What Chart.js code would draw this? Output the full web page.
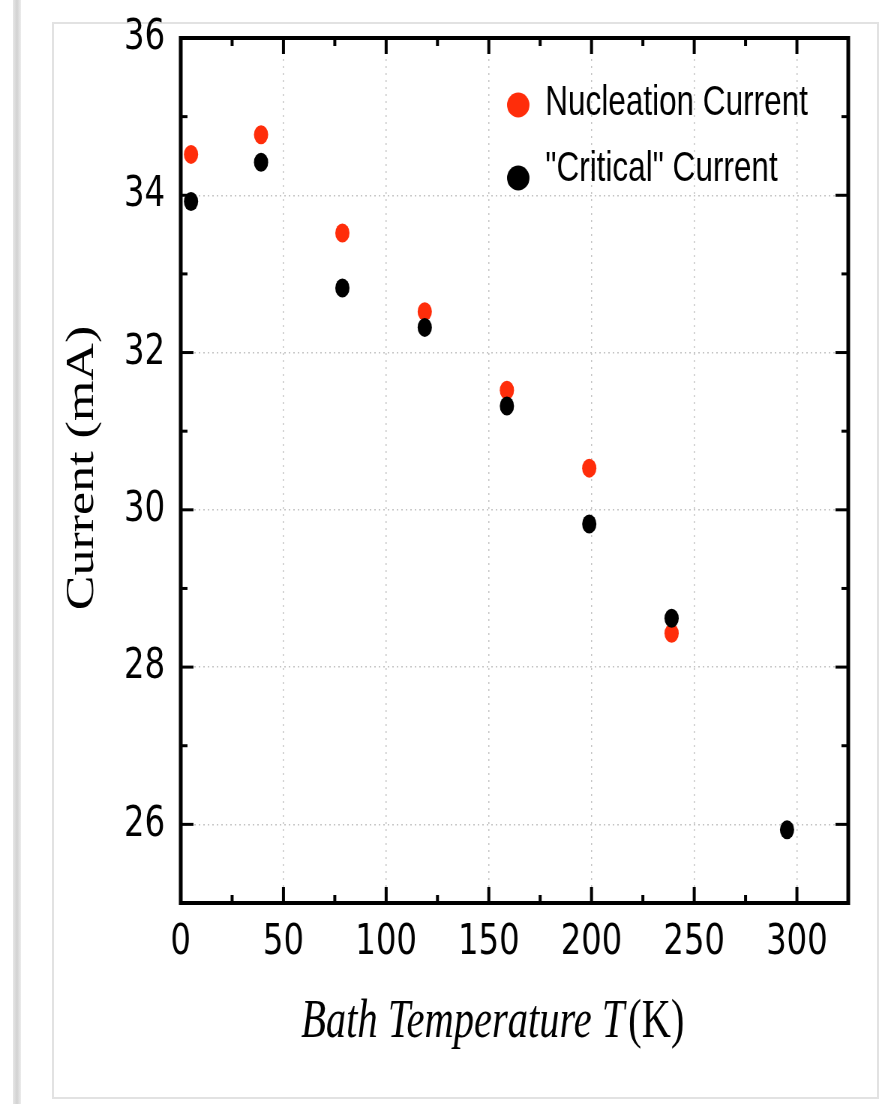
<!DOCTYPE html>
<html>
<head>
<meta charset="utf-8">
<script src="https://cdn.jsdelivr.net/npm/chart.js@4.4.1/dist/chart.umd.min.js"></script>
<style>
  html, body { margin: 0; padding: 0; background: #fff; }
  body { width: 889px; height: 1104px; position: relative; overflow: hidden; }
  #stripe { position: absolute; left: 13px; top: 0; width: 8px; height: 1104px;
    background: linear-gradient(to right, #e6e6e6, #d2d2d2, #ececec); }
  #card { position: absolute; left: 52px; top: 22px; width: 827px; height: 1077px;
    border: 2px solid #e2e2e2; box-sizing: border-box; }
  /* the reference is squeezed sideways, so draw wide and scale down */
  #wrap { position: absolute; left: 0; top: 0; width: 1185px; height: 1104px;
    transform: scaleX(0.75); transform-origin: 0 0; }
</style>
</head>
<body>
<div id="stripe"></div>
<div id="card"></div>
<div id="wrap"><canvas id="chart"></canvas></div>
<script>
const xTicks = [0, 50, 100, 150, 200, 250, 300]
const yTicks = [26, 28, 30, 32, 34, 36]

const nucleationT = [5, 39.1, 78.7, 118.8, 158.8, 198.9, 239]
const nucleationI = [34.52, 34.77, 33.52, 32.52, 31.52, 30.53, 28.43]

const criticalT = [5, 39.1, 78.7, 118.8, 158.8, 198.9, 239, 295.2]
const criticalI = [33.92, 34.42, 32.82, 32.32, 31.32, 29.82, 28.62, 25.93]

const RED = '#ff2d0a'
const GRID = '#c4c4c4'

const toPoints = (xs, ys) => xs.map((x, i) => ({ x, y: ys[i] }))
const midpoints = arr => arr.slice(1).map((v, i) => (v + arr[i]) / 2)

// box frame with inward ticks on all four sides
const frame = {
  id: 'frame',
  beforeDatasetsDraw(chart) {
    const { ctx, chartArea: a, scales: { x, y } } = chart
    ctx.save()
    ctx.strokeStyle = '#000'
    ctx.lineCap = 'butt'

    const vline = (px, y0, y1, w) => {
      ctx.lineWidth = w; ctx.beginPath(); ctx.moveTo(px, y0); ctx.lineTo(px, y1); ctx.stroke()
    }
    const hline = (py, x0, x1, w) => {
      ctx.lineWidth = w; ctx.beginPath(); ctx.moveTo(x0, py); ctx.lineTo(x1, py); ctx.stroke()
    }

    xTicks.forEach(v => {
      const px = x.getPixelForValue(v)
      vline(px, a.bottom, a.bottom - 16, 4)
      vline(px, a.top, a.top + 16, 4)
    })
    midpoints(xTicks).forEach(v => {
      const px = x.getPixelForValue(v)
      vline(px, a.bottom, a.bottom - 8, 4)
      vline(px, a.top, a.top + 8, 4)
    })
    yTicks.forEach(v => {
      const py = y.getPixelForValue(v)
      hline(py, a.left, a.left + 17, 3)
      hline(py, a.right, a.right - 17, 3)
    })
    midpoints(yTicks).forEach(v => {
      const py = y.getPixelForValue(v)
      hline(py, a.left, a.left + 9, 3)
      hline(py, a.right, a.right - 9, 3)
    })

    vline(a.left, a.top - 2, a.bottom + 2, 5)
    vline(a.right, a.top - 2, a.bottom + 2, 5)
    hline(a.top, a.left, a.right, 4)
    hline(a.bottom, a.left, a.right, 4)
    ctx.restore()
  },
  afterDraw(chart) {
    const { ctx } = chart
    ctx.save()

    // legend
    ctx.font = '42px "Liberation Sans", Arial, sans-serif'
    ctx.textBaseline = 'middle'
    ctx.textAlign = 'left'
    const rows = [{ my: 105, ty: 103 }, { my: 178, ty: 169 }]
    chart.data.datasets.forEach((ds, i) => {
      ctx.fillStyle = ds.backgroundColor
      ctx.beginPath()
      ctx.ellipse(691, rows[i].my, 15, 12.5, 0, 0, Math.PI * 2)
      ctx.fill()
      ctx.fillStyle = '#000'
      ctx.fillText(ds.label, 727, rows[i].ty)
    })

    // y axis title
    ctx.save()
    ctx.translate(124, 468)
    ctx.rotate(-Math.PI / 2)
    ctx.font = '52px "Liberation Serif", "Times New Roman", serif'
    ctx.textAlign = 'center'
    ctx.textBaseline = 'alphabetic'
    ctx.fillText('Current (mA)', 0, 0)
    ctx.restore()

    // x axis title, italic with upright unit
    const italic = 'italic 54px "Liberation Serif", "Times New Roman", serif'
    const roman = '54px "Liberation Serif", "Times New Roman", serif'
    const partA = 'Bath Temperature T'
    const partB = '(K)'
    ctx.font = italic
    const wA = ctx.measureText(partA).width
    ctx.font = roman
    const wB = ctx.measureText(partB).width
    const gap = 5
    const cx = 657
    const sx = cx - (wA + gap + wB) / 2
    ctx.textAlign = 'left'
    ctx.textBaseline = 'alphabetic'
    ctx.font = italic
    ctx.fillText(partA, sx, 1037)
    ctx.font = roman
    ctx.fillText(partB, sx + wA + gap, 1037)
    ctx.restore()
  }
}

const tickFont = { family: '"DejaVu Sans", sans-serif', size: 43 }

new Chart(document.getElementById('chart'), {
  type: 'scatter',
  data: {
    datasets: [
      {
        label: 'Nucleation Current',
        data: toPoints(nucleationT, nucleationI),
        backgroundColor: RED,
        borderWidth: 0,
        pointRadius: 9.5,
        pointHoverRadius: 9.5,
        order: 1
      },
      {
        label: '"Critical" Current',
        data: toPoints(criticalT, criticalI),
        backgroundColor: '#000',
        borderWidth: 0,
        pointRadius: 9.5,
        pointHoverRadius: 9.5,
        order: 0
      }
    ]
  },
  options: {
    responsive: true,
    maintainAspectRatio: false,
    animation: false,
    layout: { padding: { top: 38, right: 54, left: 0, bottom: 0 } },
    plugins: {
      legend: { display: false },
      tooltip: { enabled: false }
    },
    scales: {
      x: {
        type: 'linear',
        min: 0,
        max: 325,
        afterBuildTicks: s => { s.ticks = xTicks.map(v => ({ value: v })) },
        afterFit: s => { s.height = 201; s.paddingLeft = 0; s.paddingRight = 0 },
        ticks: { color: '#000', font: tickFont, padding: 14, maxRotation: 0 },
        grid: {
          drawTicks: false,
          lineWidth: 1.5,
          color: c => (c.tick && c.tick.value === 0) ? 'transparent' : GRID
        },
        border: { display: false, dash: [2, 5] }
      },
      y: {
        type: 'linear',
        min: 25,
        max: 36,
        afterBuildTicks: s => { s.ticks = yTicks.map(v => ({ value: v })) },
        afterFit: s => { s.width = 241; s.paddingTop = 0; s.paddingBottom = 0 },
        ticks: { color: '#000', font: tickFont, padding: 21 },
        grid: {
          drawTicks: false,
          lineWidth: 1.5,
          color: c => (c.tick && c.tick.value === 36) ? 'transparent' : GRID
        },
        border: { display: false, dash: [2, 4] }
      }
    }
  },
  plugins: [frame]
})
</script>
</body>
</html>
